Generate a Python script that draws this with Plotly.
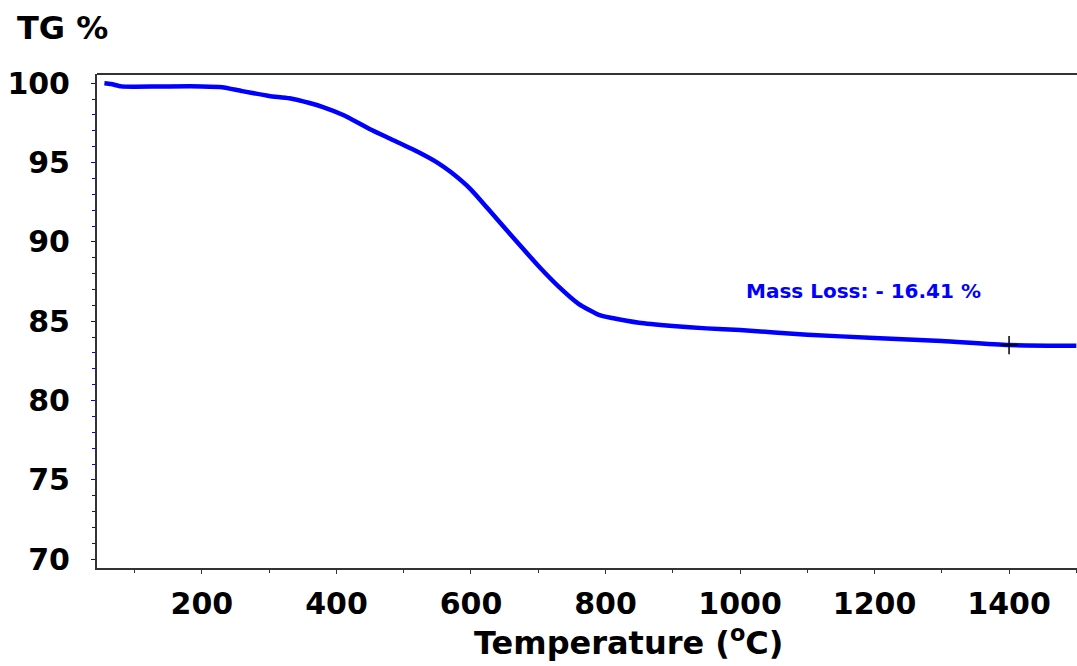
import plotly.graph_objects as go

# Data
temperature = [55, 65, 80, 100, 150, 200, 230, 260, 300, 330, 360, 380, 410, 450, 480,
               520, 550, 570, 600, 625, 660, 700, 730, 760, 790, 810, 850, 900, 950,
               1000, 1100, 1200, 1300, 1400, 1500]
tg_percent = [100.0, 99.95, 99.8, 99.78, 99.8, 99.8, 99.75, 99.5, 99.2, 99.05, 98.75,
              98.5, 98.0, 97.1, 96.5, 95.7, 95.0, 94.4, 93.3, 92.1, 90.4, 88.5, 87.2,
              86.1, 85.4, 85.2, 84.9, 84.7, 84.55, 84.45, 84.15, 83.95, 83.75, 83.5, 83.45]

marker_temp = [1400]
marker_tg = [83.5]

x_ticks = [200, 400, 600, 800, 1000, 1200, 1400]
y_ticks = [70, 75, 80, 85, 90, 95, 100]

annotation_text = "Mass Loss: - 16.41 %"
annotation_pos = (1183, 86.9)

FONT = "DejaVu Sans"

fig = go.Figure()
fig.add_trace(go.Scatter(
    x=temperature, y=tg_percent, mode="lines",
    line=dict(color="#0000FF", width=4.5, shape="spline", smoothing=0.6),
    showlegend=False, hoverinfo="skip"))
fig.add_trace(go.Scatter(
    x=marker_temp, y=marker_tg, mode="markers",
    marker=dict(symbol="cross-thin", size=13, line=dict(color="black", width=1.5)),
    showlegend=False, hoverinfo="skip"))

fig.add_annotation(x=annotation_pos[0], y=annotation_pos[1], text=annotation_text,
                   showarrow=False, xref="x", yref="y",
                   font=dict(family=FONT, size=20, color="#0000FF", weight="bold"))

fig.add_annotation(x=-0.084, y=1.093, xref="paper", yref="paper", xanchor="left",
                   yanchor="middle", text="TG %", showarrow=False,
                   font=dict(family=FONT, size=32, color="black", weight="bold"))

fig.add_annotation(x=0.542, y=-0.148, xref="paper", yref="paper", xanchor="center",
                   yanchor="middle", text="Temperature (<sup>o</sup>C)", showarrow=False,
                   font=dict(family=FONT, size=32, color="black", weight="bold"))

fig.update_layout(
    width=1077, height=666,
    margin=dict(l=97, r=0, t=74, b=98, autoexpand=False),
    paper_bgcolor="white", plot_bgcolor="white",
    xaxis=dict(range=[44, 1501], tickvals=x_ticks, ticktext=[str(v) for v in x_ticks],
               showgrid=False, zeroline=False, showline=True, linecolor="#333333",
               linewidth=2, mirror=False, ticks="outside", ticklen=4, tickcolor="#333333",
               tickfont=dict(family=FONT, size=30, color="black", weight="bold"),
               minor=dict(dtick=100, tick0=0, ticks="outside", ticklen=3, tickcolor="#333333"),
               ticklabelstandoff=4, automargin=False),
    yaxis=dict(range=[69.45, 100.58], tickvals=y_ticks, ticktext=[str(v) for v in y_ticks],
               showgrid=False, zeroline=False, showline=True, linecolor="#333333",
               linewidth=2, ticks="outside", ticklen=4, tickcolor="#0000FF",
               tickfont=dict(family=FONT, size=30, color="black", weight="bold"),
               minor=dict(dtick=1, tick0=0, ticks="outside", ticklen=3, tickcolor="#0000FF"),
               ticklabelstandoff=15, automargin=False),
    shapes=[dict(type="line", xref="paper", yref="paper", x0=0, x1=1, y0=1, y1=1,
                 line=dict(color="#333333", width=2))],
)

fig.write_html("out.html", config={"displayModeBar": False},
               post_script="document.body.style.margin='0';document.body.style.overflow='hidden';")
